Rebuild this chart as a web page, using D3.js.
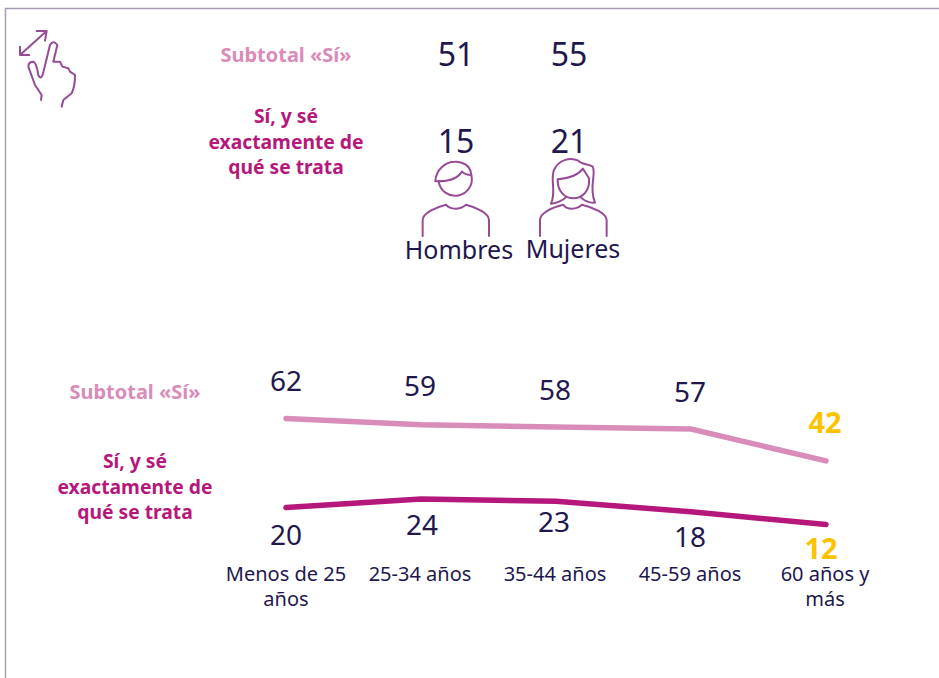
<!DOCTYPE html>
<html>
<head>
<meta charset="utf-8">
<script src="https://cdn.jsdelivr.net/npm/d3@7"></script>
<style>
body { margin: 0; background: #fff; }
svg { display: block; }
text { font-family: "Noto Sans", sans-serif; text-anchor: middle; }
</style>
</head>
<body>
<div id="chart"></div>
<script>
// gender block
var genders = ["Hombres", "Mujeres"];
var genderSubtotal = [51, 55];
var genderExact = [15, 21];

// age block
var ages = ["Menos de 25 años", "25-34 años", "35-44 años", "45-59 años", "60 años y más"];
var ageSubtotal = [62, 59, 58, 57, 42];
var ageExact = [20, 24, 23, 18, 12];

var labelSubtotal = "Subtotal «Sí»";
var labelExact = ["Sí, y sé", "exactamente de", "qué se trata"];

function init(){

	var w = 939;
	var h = 678;

	var dark = "#22174d";
	var pink = "#d98cb8";
	var magenta = "#b5177a";
	var yellow = "#fdc300";
	var iconColor = "#964b96";

	var svg = d3.select("#chart")
				.append("svg")
				.attr("width", w)
				.attr("height", h);

	//frame, only top and left are visible
	svg.append("path")
		.attr("d", "M5.5,678V8.5H939")
		.attr("fill", "none")
		.attr("stroke", "#a99cb6")
		.attr("stroke-width", 1.5);

	//scales
	var x = d3.scalePoint().domain(ages).range([286, 826]);
	var y = d3.scaleLinear().domain([12, 62]).range([524.5, 418.5]);
	var xGender = d3.scalePoint().domain(genders).range([456, 569]);

	var line = d3.line()
				.x(function(d, i) { return x(ages[i]); })
				.y(function(d) { return y(d); });

	//the two lines
	svg.append("path")
		.attr("d", line(ageSubtotal))
		.attr("fill", "none")
		.attr("stroke", pink)
		.attr("stroke-width", 5.5)
		.attr("stroke-linecap", "round");

	svg.append("path")
		.attr("d", line(ageExact))
		.attr("fill", "none")
		.attr("stroke", magenta)
		.attr("stroke-width", 5.5)
		.attr("stroke-linecap", "round");

	//nudges so the labels sit where they do in the picture
	var upperDx = [0, -1, -1, -1, -1];
	var upperDy = [-28, -29, -27, -27, -28];
	var lowerDx = [0, 1, -2, -1, -5];
	var lowerDy = [37, 36, 31, 35, 34];

	//value labels, the last one of each line is highlighted
	svg.selectAll("text.upper")
		.data(ageSubtotal)
		.enter()
		.append("text")
		.attr("class", "upper")
		.attr("x", function(d, i) { return x(ages[i]) + upperDx[i]; })
		.attr("y", function(d, i) { return y(d) + upperDy[i]; })
		.attr("font-size", function(d, i) { return i == 4 ? 29 : 28; })
		.attr("font-weight", function(d, i) { return i == 4 ? 700 : 400; })
		.attr("fill", function(d, i) { return i == 4 ? yellow : dark; })
		.text(function(d) { return d; });

	svg.selectAll("text.lower")
		.data(ageExact)
		.enter()
		.append("text")
		.attr("class", "lower")
		.attr("x", function(d, i) { return x(ages[i]) + lowerDx[i]; })
		.attr("y", function(d, i) { return y(d) + lowerDy[i]; })
		.attr("font-size", function(d, i) { return i == 4 ? 29 : 28; })
		.attr("font-weight", function(d, i) { return i == 4 ? 700 : 400; })
		.attr("fill", function(d, i) { return i == 4 ? yellow : dark; })
		.text(function(d) { return d; });

	//age categories, wrapped by hand like the original
	var cats = svg.selectAll("text.cat")
		.data(ages)
		.enter()
		.append("text")
		.attr("class", "cat")
		.attr("font-size", 20)
		.attr("fill", dark);

	cats.selectAll("tspan")
		.data(function(d, i) {
			if (i == 0) return [[d.slice(0, 11), d], [d.slice(12), d]];
			if (i == 4) return [[d.slice(0, 9), d], [d.slice(10), d]];
			return [[d, d]];
		})
		.enter()
		.append("tspan")
		.attr("x", function(d) { return x(d[1]) - (d[1] == ages[0] ? 0 : 1); })
		.attr("y", function(d, i) { return 581 + i * 25; })
		.text(function(d) { return d[0]; });

	//gender numbers and names
	svg.selectAll("text.gsub")
		.data(genderSubtotal)
		.enter()
		.append("text")
		.attr("class", "gsub")
		.attr("x", function(d, i) { return xGender(genders[i]); })
		.attr("y", 66)
		.attr("font-size", 32)
		.attr("fill", dark)
		.text(function(d) { return d; });

	svg.selectAll("text.gexact")
		.data(genderExact)
		.enter()
		.append("text")
		.attr("class", "gexact")
		.attr("x", function(d, i) { return xGender(genders[i]); })
		.attr("y", 153)
		.attr("font-size", 32)
		.attr("fill", dark)
		.text(function(d) { return d; });

	svg.selectAll("text.gname")
		.data(genders)
		.enter()
		.append("text")
		.attr("class", "gname")
		.attr("x", function(d, i) { return i == 0 ? 459 : 573; })
		.attr("y", function(d, i) { return i == 0 ? 259 : 258; })
		.attr("font-size", 25)
		.attr("fill", dark)
		.text(function(d) { return d; });

	//row titles
	function rowTitles(cx, ySub, yExact) {
		svg.append("text")
			.attr("x", cx)
			.attr("y", ySub)
			.attr("font-size", 20)
			.attr("font-weight", 700)
			.attr("fill", pink)
			.text(labelSubtotal);

		svg.selectAll(null)
			.data(labelExact)
			.enter()
			.append("text")
			.attr("x", cx)
			.attr("y", function(d, i) { return yExact + i * 25.5; })
			.attr("font-size", 19.3)
			.attr("font-weight", 700)
			.attr("fill", magenta)
			.text(function(d) { return d; });
	}
	rowTitles(286, 62, 123);
	rowTitles(135, 399, 468);

	//icons are drawn in 3x zoom units
	var man = svg.append("g")
		.attr("transform", "translate(400,120) scale(0.3333)")
		.attr("fill", "none")
		.attr("stroke", iconColor)
		.attr("stroke-width", 6)
		.attr("stroke-linecap", "round")
		.attr("stroke-linejoin", "round");
	man.append("path").attr("d", "M116,184A50,50 0 1 0 214,165");
	man.append("path").attr("d", "M106,184C135,185 170,180 186,155C195,165 205,165 214,165C212,135 185,124 165,125C135,125 108,150 106,184Z");
	man.append("path").attr("d", "M68,348V300C68,280 105,262 138,254C150,270 180,270 198,254C230,262 267,280 267,300V348");

	var woman = svg.append("g")
		.attr("transform", "translate(400,120) scale(0.3333)")
		.attr("fill", "none")
		.attr("stroke", iconColor)
		.attr("stroke-width", 6)
		.attr("stroke-linecap", "round")
		.attr("stroke-linejoin", "round");
	woman.append("path").attr("d", "M473,178C472,215 495,235 520,235C550,235 570,210 567,175L549,146C535,165 505,175 473,178Z");
	woman.append("path").attr("d", "M497,232C490,240 470,250 453,251C470,215 450,180 462,150C475,120 510,110 535,122C545,135 565,130 578,140C590,165 565,200 585,248C565,250 550,240 540,230");
	woman.append("path").attr("d", "M420,348V300C420,280 455,262 490,254C500,270 530,270 546,254C580,262 620,280 620,300V348");

	var hand = svg.append("g")
		.attr("transform", "scale(0.3333)")
		.attr("fill", "none")
		.attr("stroke", iconColor)
		.attr("stroke-width", 6)
		.attr("stroke-linecap", "round")
		.attr("stroke-linejoin", "round");
	hand.append("path").attr("d", "M60,165L140,93M60,140V165H88M110,93H140L135,122");
	hand.append("path").attr("d", "M123,300L125,285L105,255L85,200Q85,185 100,185Q110,190 115,225Q122,240 128,225L150,135Q160,118 172,135L160,185L180,185L187,200L205,205L210,215L225,225Q225,260 215,280L190,300L185,320");
}

window.onload = init;
</script>
</body>
</html>
